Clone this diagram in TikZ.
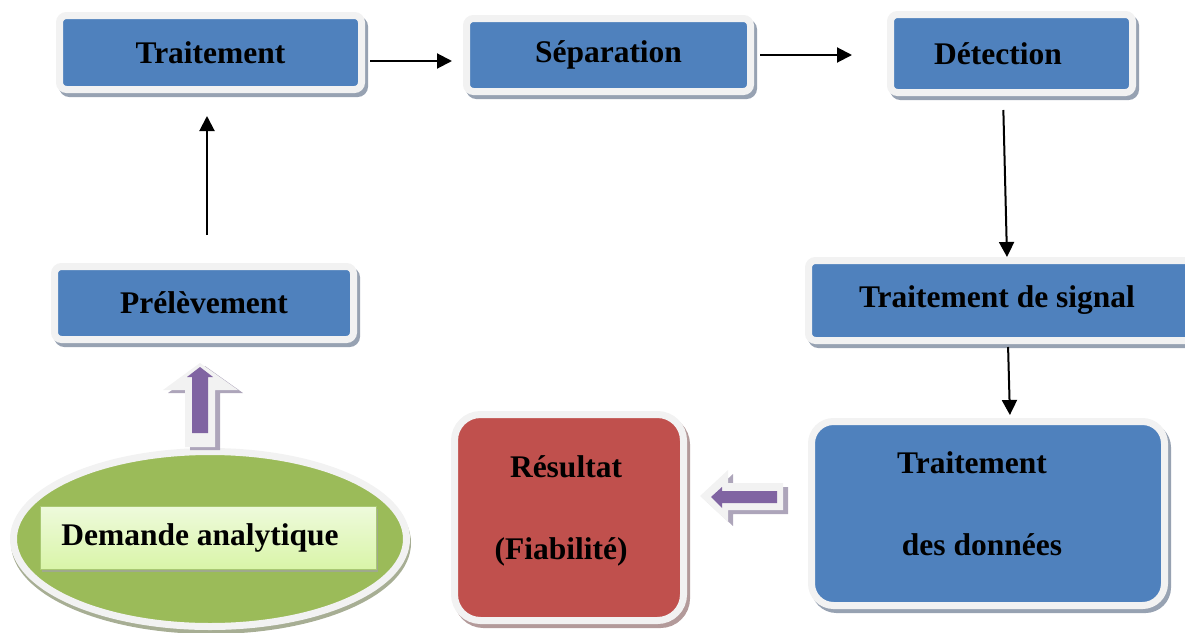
\documentclass[tikz,border=0pt]{standalone}
\usepackage{fontspec}
\setmainfont{Liberation Serif}
\usetikzlibrary{arrows.meta,shadows,shapes.geometric}
\definecolor{boxblue}{HTML}{4F81BD}
\definecolor{rimgrey}{HTML}{F2F2F2}
\definecolor{blueshadow}{HTML}{97A2B2}
\definecolor{resred}{HTML}{C0504D}
\definecolor{redshadow}{HTML}{B39A9A}
\definecolor{leafgreen}{HTML}{9BBB59}
\definecolor{greenshadow}{HTML}{A7AE94}
\definecolor{demtop}{HTML}{EEFADC}
\definecolor{dembot}{HTML}{D9F5A8}
\definecolor{demrim}{HTML}{A9C873}
\definecolor{demshadow}{HTML}{9FA98C}
\definecolor{plum}{HTML}{8064A2}
\definecolor{plumshadow}{HTML}{ADA5BA}
\begin{document}
\begin{tikzpicture}[x=1pt,y=-1pt,font=\bfseries\fontsize{31.5}{36}\selectfont]
        \tikzstyle{stage}=[rectangle,rounded corners=7pt,fill=boxblue,draw=rimgrey,line width=7pt,inner sep=0pt]
        \tikzstyle{blueshade}=[drop shadow={shadow xshift=3pt,shadow yshift=-4pt,fill=blueshadow,draw=blueshadow,opacity=1}]
        \tikzstyle{redshade}=[drop shadow={shadow xshift=3pt,shadow yshift=-4pt,fill=redshadow,draw=redshadow,opacity=1}]
        \tikzstyle{link}=[draw,-{Triangle[length=15pt,width=15pt]},line width=2pt]
        \useasboundingbox (0,0) rectangle (1185,632);
        % top row
        \node [stage,blueshade,minimum width=302pt,minimum height=74pt] (trait) at (210.5,52.5) {Traitement};
        \node [stage,blueshade,minimum width=284pt,minimum height=73pt] (separ) at (608.5,55) {Séparation};
        \node [stage,blueshade,minimum width=242pt,minimum height=78pt] (detect) at (1011.5,53.5) {Détection\hspace*{27pt}};
        % middle row
        \node [stage,blueshade,minimum width=299pt,minimum height=73pt] (prel) at (204,303) {Prélèvement};
        \node [stage,blueshade,minimum width=385pt,minimum height=80pt] (signal) at (1001,300.5) {Traitement de signal\hspace*{8pt}};
        % bottom row
        \node [stage,blueshade,rounded corners=22pt,minimum width=353pt,minimum height=184pt,align=center] (donnees) at (988,513.5)
              {Traitement\hspace*{32pt}\mbox{}\\[46pt]des données\hspace*{12pt}\mbox{}\\[-16pt]\mbox{}};
        \node [stage,redshade,fill=resred,rounded corners=26pt,minimum width=229pt,minimum height=206pt,align=center] (result) at (569,517.5)
              {Résultat\hspace*{6pt}\mbox{}\\[46pt](Fiabilité)\hspace*{16pt}\mbox{}\\[-16pt]\mbox{}};
        \node [ellipse,fill=leafgreen,draw=rimgrey,line width=7pt,inner sep=0pt,minimum width=393pt,minimum height=175pt,
               drop shadow={shadow xshift=1pt,shadow yshift=-4pt,fill=greenshadow,draw=greenshadow,opacity=1}] (oval) at (210,539) {};
        \node [rectangle,top color=demtop,bottom color=dembot,draw=demrim,line width=1pt,minimum width=336pt,minimum height=63pt,
               drop shadow={shadow xshift=2pt,shadow yshift=-3pt,fill=demshadow,opacity=1}] (demande) at (208,537.5) {Demande analytique\hspace*{16pt}};
        % block arrows
        \fill [plumshadow,shift={(5,3)}] (200,363) -- (238,390) -- (215,390) -- (215,447) -- (185,447) -- (185,390) -- (163,390) -- cycle;
        \fill [rimgrey] (200,363) -- (238,390) -- (215,390) -- (215,447) -- (185,447) -- (185,390) -- (163,390) -- cycle;
        \fill [plum] (200,367) -- (213,377) -- (208,377) -- (208,433) -- (192,433) -- (192,377) -- (187,377) -- cycle;
        \fill [plumshadow,shift={(5,4)}] (700,496) -- (728,470) -- (728,483) -- (783,483) -- (783,510) -- (728,510) -- (728,522) -- cycle;
        \fill [rimgrey] (700,496) -- (728,470) -- (728,483) -- (783,483) -- (783,510) -- (728,510) -- (728,522) -- cycle;
        \fill [plum] (711,497) -- (722,487) -- (722,491) -- (777,491) -- (777,503) -- (722,503) -- (722,508) -- cycle;
        % connectors
        \path[link,shorten <=28pt,shorten >=23pt] ([xshift=3pt]prel.north) -- ([xshift=-3.5pt]trait.south);
        \path[link,shorten <=5pt,shorten >=11pt] ([yshift=-8.5pt]trait.east) -- ([yshift=-6pt]separ.west);
        \path[link,shorten <=6pt,shorten >=35pt] (separ.east) -- ([yshift=-1.5pt]detect.west);
        \path[link,shorten <=14pt] ([xshift=-8.5pt]detect.south) -- ([xshift=6pt]signal.north);
        \path[link,shorten <=3pt,shorten >=3pt] ([xshift=7pt]signal.south) -- ([xshift=22pt]donnees.north);
\end{tikzpicture}
\end{document}
